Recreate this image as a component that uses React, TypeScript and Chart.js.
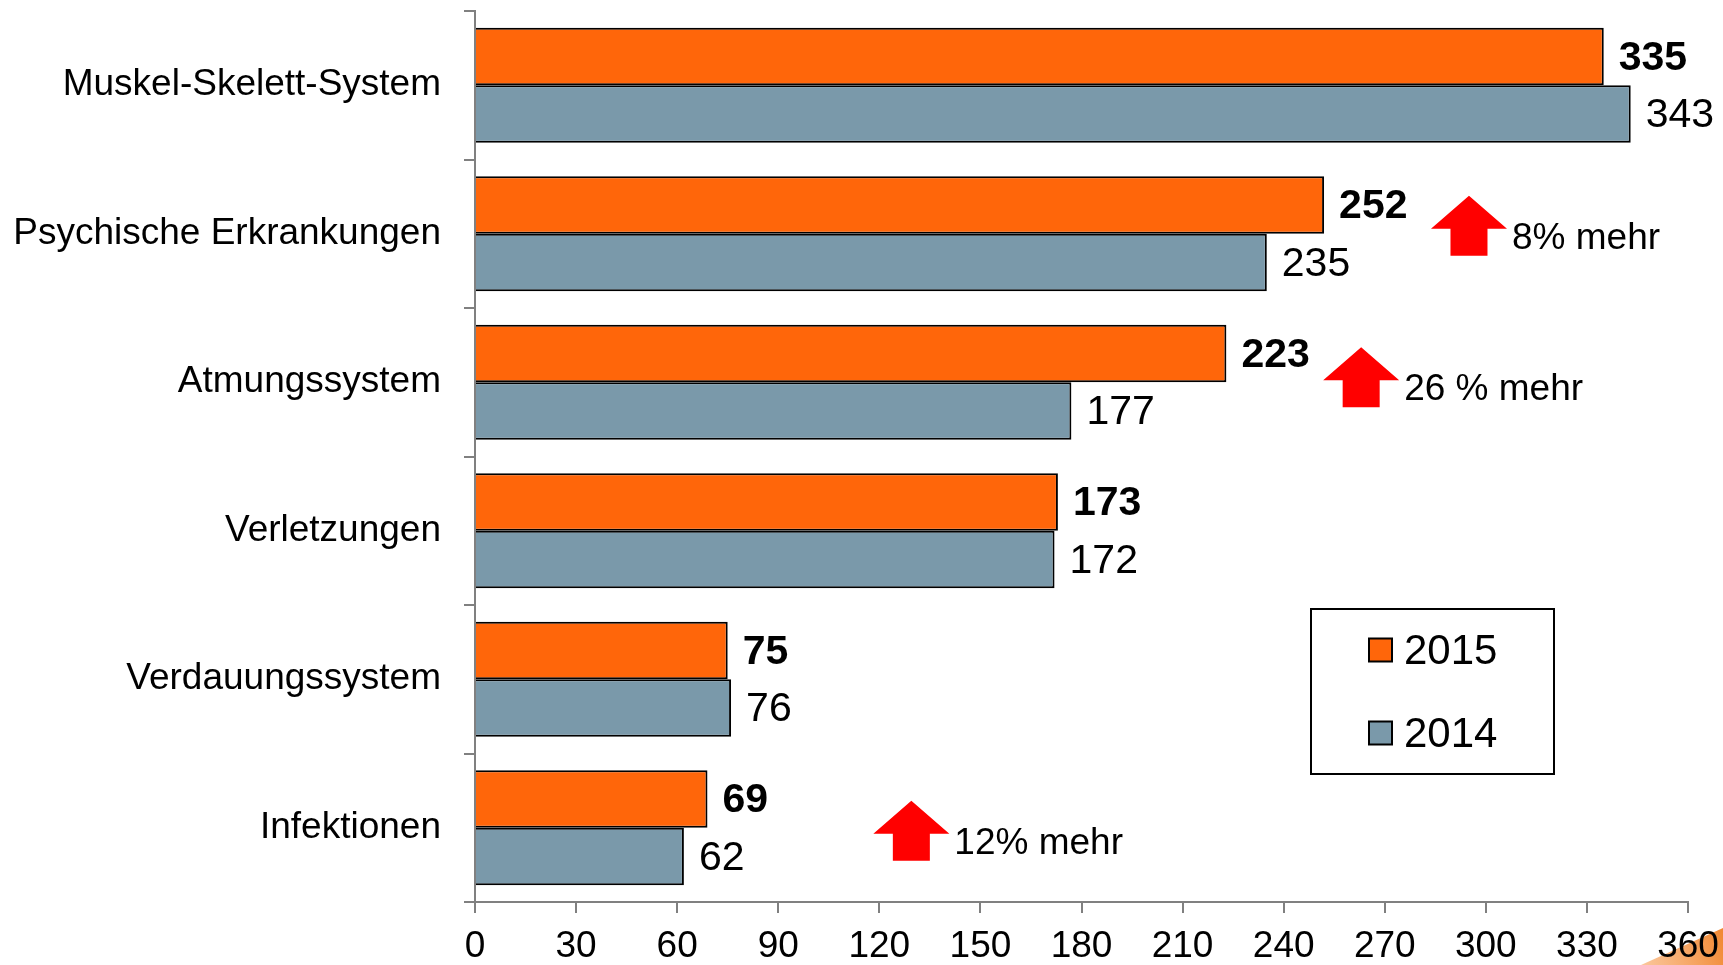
import React, { useEffect, useRef } from "react";
import { Chart, registerables } from "chart.js";

Chart.register(...registerables);

const categories = [
  "Muskel-Skelett-System",
  "Psychische Erkrankungen",
  "Atmungssystem",
  "Verletzungen",
  "Verdauungssystem",
  "Infektionen",
];
const values2015 = [335, 252, 223, 173, 75, 69];
const values2014 = [343, 235, 177, 172, 76, 62];
const seriesLabels = ["2015", "2014"];
const xTicksMax = 360;
const xTicksStep = 30;

// annotations: category index, x value (data units), text
const noteCategory = [1, 2, 5];
const noteValue = [295, 263, 129.5];
const noteText = ["8% mehr", "26 % mehr", "12% mehr"];
const noteDy = [-5, -2, 6];

const ORANGE = "#FF660A";
const GREY = "#7A99AA";
const FONT = "'Liberation Sans', Arial, Helvetica, sans-serif";

const overlayPlugin = {
  id: "overlay",
  beforeDraw(chart: any) {
    const ctx = chart.ctx;
    const W = chart.width;
    const H = chart.height;
    ctx.save();
    ctx.fillStyle = "#ffffff";
    ctx.fillRect(0, 0, W, H);
    const g = ctx.createLinearGradient(W - 80, H, W, H - 30);
    g.addColorStop(0, "rgba(247,150,70,0.55)");
    g.addColorStop(1, "rgba(240,130,40,0.95)");
    ctx.fillStyle = g;
    ctx.beginPath();
    ctx.moveTo(W - 82, H);
    ctx.lineTo(W, H - 37);
    ctx.lineTo(W, H);
    ctx.closePath();
    ctx.fill();
    ctx.restore();
  },
  afterDatasetsDraw(chart: any) {
    const ctx = chart.ctx;
    ctx.save();
    // value labels
    chart.data.datasets.forEach((ds: any, di: number) => {
      const meta = chart.getDatasetMeta(di);
      meta.data.forEach((bar: any, i: number) => {
        ctx.font = (di === 0 ? "bold " : "") + "41px " + FONT;
        ctx.fillStyle = "#000";
        ctx.textAlign = "left";
        ctx.textBaseline = "middle";
        ctx.fillText(String(ds.data[i]), bar.x + 15, bar.y + 2);
      });
    });
    // arrows + notes
    const xs = chart.scales.x;
    const ys = chart.scales.y;
    noteCategory.forEach((c, k) => {
      const cx = xs.getPixelForValue(noteValue[k]);
      const base = ys.getPixelForValue(c) + noteDy[k];
      ctx.fillStyle = "#FF0000";
      ctx.beginPath();
      ctx.moveTo(cx, base - 33);
      ctx.lineTo(cx + 38, base);
      ctx.lineTo(cx + 18.5, base);
      ctx.lineTo(cx + 18.5, base + 27);
      ctx.lineTo(cx - 18.5, base + 27);
      ctx.lineTo(cx - 18.5, base);
      ctx.lineTo(cx - 38, base);
      ctx.closePath();
      ctx.fill();
      ctx.fillStyle = "#000";
      ctx.font = "37px " + FONT;
      ctx.textAlign = "left";
      ctx.textBaseline = "alphabetic";
      ctx.fillText(noteText[k], cx + 43, base + 20);
    });
    // legend box
    const ca = chart.chartArea;
    const lx = ca.right - 377;
    const ly = ca.bottom - 293;
    const lw = 243;
    const lh = 165;
    ctx.strokeStyle = "#000";
    ctx.lineWidth = 2;
    ctx.fillStyle = "#fff";
    ctx.fillRect(lx, ly, lw, lh);
    ctx.strokeRect(lx, ly, lw, lh);
    const colors = [ORANGE, GREY];
    seriesLabels.forEach((lab, i) => {
      const cy = ly + 41 + i * 83;
      ctx.fillStyle = colors[i];
      ctx.fillRect(lx + 58, cy - 11.5, 23, 23);
      ctx.strokeStyle = "#000";
      ctx.lineWidth = 2;
      ctx.strokeRect(lx + 58, cy - 11.5, 23, 23);
      ctx.fillStyle = "#000";
      ctx.font = "42px " + FONT;
      ctx.textAlign = "left";
      ctx.textBaseline = "middle";
      ctx.fillText(lab, lx + 93, cy + 2);
    });
    ctx.restore();
  },
};

export default function App() {
  const ref = useRef<HTMLCanvasElement | null>(null);
  useEffect(() => {
    document.body.style.margin = "0";
    const canvas = ref.current;
    if (!canvas) return;
    const chart = new Chart(canvas, {
      type: "bar",
      data: {
        labels: categories,
        datasets: [
          {
            label: seriesLabels[0],
            data: values2015,
            backgroundColor: ORANGE,
            borderColor: "#000",
            borderWidth: 2,
            categoryPercentage: 0.775,
            barPercentage: 1,
          },
          {
            label: seriesLabels[1],
            data: values2014,
            backgroundColor: GREY,
            borderColor: "#000",
            borderWidth: 2,
            categoryPercentage: 0.775,
            barPercentage: 1,
          },
        ],
      },
      options: {
        indexAxis: "y",
        responsive: false,
        animation: false,
        devicePixelRatio: 1,
        layout: { padding: { top: 11, right: 35, bottom: 0, left: 0 } },
        plugins: {
          legend: { display: false },
          tooltip: { enabled: false },
        },
        scales: {
          x: {
            min: 0,
            max: xTicksMax,
            afterFit(scale: any) {
              scale.height = 63;
              scale.paddingLeft = 0;
              scale.paddingRight = 0;
            },
            ticks: {
              stepSize: xTicksStep,
              color: "#000",
              font: { family: FONT, size: 37 },
              padding: 12,
              maxRotation: 0,
            },
            grid: {
              drawOnChartArea: false,
              tickLength: 11,
              color: "#808080",
              lineWidth: 2,
            },
            border: { color: "#808080", width: 2 },
          },
          y: {
            afterFit(scale: any) {
              scale.width = 475;
              scale.paddingTop = 0;
              scale.paddingBottom = 0;
            },
            ticks: {
              color: "#000",
              font: { family: FONT, size: 37 },
              padding: 23,
            },
            grid: {
              drawOnChartArea: false,
              offset: true,
              tickLength: 11,
              color: "#808080",
              lineWidth: 2,
            },
            border: { color: "#808080", width: 2 },
          },
        },
      },
      plugins: [overlayPlugin],
    });
    return () => chart.destroy();
  }, []);
  return (
    <div style={{ position: "absolute", left: 0, top: 0, width: 1723, height: 965 }}>
      <canvas ref={ref} width={1723} height={965} style={{ width: 1723, height: 965 }} />
    </div>
  );
}
